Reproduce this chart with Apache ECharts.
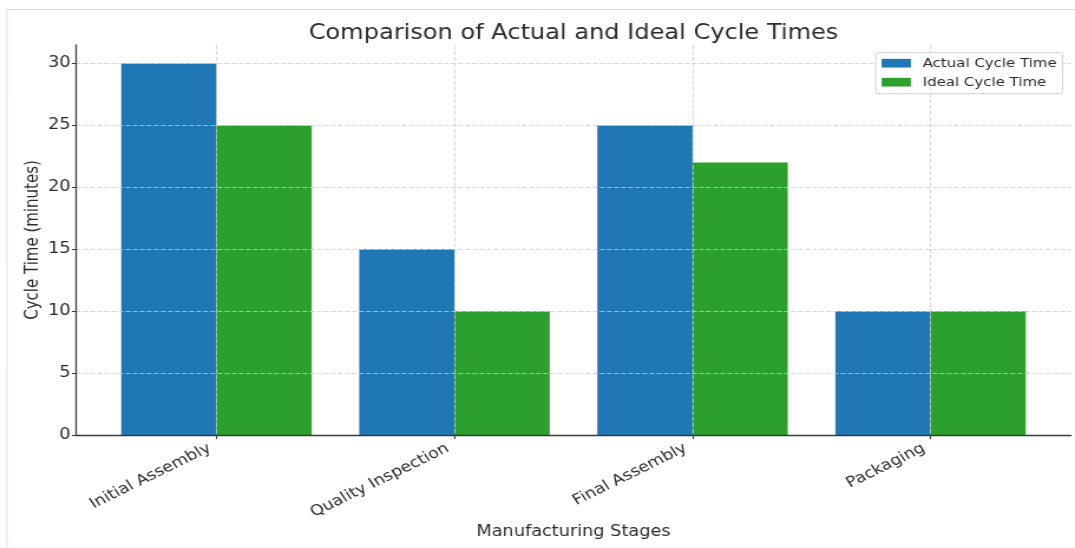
<!DOCTYPE html>
<html>
<head>
<meta charset="utf-8">
<style>
  html, body { margin: 0; padding: 0; background: #fff; overflow: hidden; }
  #wrap { width: 1075px; height: 548px; overflow: hidden; }
  #chart { height: 548px; transform-origin: 0 0; }
</style>
<script src="https://cdn.jsdelivr.net/npm/echarts@6/dist/echarts.min.js"></script>
</head>
<body>
<div id="wrap"><div id="chart"></div></div>
<script>
// Cycle times per manufacturing stage (minutes)
const stages = ['Initial Assembly', 'Quality Inspection', 'Final Assembly', 'Packaging'];
const actualTimes = [30, 15, 25, 10];
const idealTimes = [25, 10, 22, 10];
const yTicks = [0, 5, 10, 15, 20, 25, 30];

const FONT = 'DejaVu Sans';
const TEXT = '#2b2b2b';
const SPINE = '#3a3a3a';
const GRID_LINE = { show: true, lineStyle: { color: '#cdcdcd', type: [4, 2], width: 0.8 } };

// The figure is drawn on a narrower canvas and widened horizontally by SX
const SX = 1.18;
const W = 1075, H = 548;
const CW = W / SX;
const el = document.getElementById('chart');
el.style.width = CW + 'px';
el.style.transform = 'scaleX(' + SX + ')';

// Plot frame in output pixels
const plot = { left: 76, right: 1071, top: 45, bottom: 435 };

// Horizontal data range: bars occupy index ± 0.4, padded by 5% on each side
const span = (stages.length - 1) + 0.8;
const pad = span * 0.05;
const xMin = -0.4 - pad;
const xMax = (stages.length - 1) + 0.4 + pad;
const pxPerUnit = (plot.right - plot.left) / (xMax - xMin);
const toPx = v => (plot.left + (v - xMin) * pxPerUnit) / SX;   // canvas x

// Vertical range: top tick padded by 5%
const yTop = yTicks[yTicks.length - 1];
const yMax = yTop * 1.05;
const toPy = v => plot.bottom - (v / yMax) * (plot.bottom - plot.top);

const chart = echarts.init(el, null, { renderer: 'canvas' });

const L = plot.left / SX, R = CW - plot.right / SX;

chart.setOption({
  animation: false,
  textStyle: { fontFamily: FONT, color: TEXT },
  title: {
    text: 'Comparison of Actual and Ideal Cycle Times',
    left: (L + (CW - R)) / 2 - 5,
    textAlign: 'center',
    top: 19,
    textStyle: { fontFamily: FONT, fontSize: 20.4, fontWeight: 'normal', color: TEXT }
  },
  legend: {
    orient: 'vertical',
    left: 875.7 / SX,
    top: 52.7,
    z: 10,
    icon: 'rect',
    itemWidth: 24.8,
    itemHeight: 8.7,
    itemGap: 4,
    padding: [3, 5, 4, 5],
    borderColor: '#d0d0d0',
    borderWidth: 1,
    borderRadius: 2,
    backgroundColor: 'rgba(255,255,255,0.85)',
    textStyle: { fontFamily: FONT, fontSize: 12.7, color: TEXT, padding: [0, 0, 0, 5], lineHeight: 15 },
    data: ['Actual Cycle Time', 'Ideal Cycle Time']
  },
  graphic: [
    { type: 'line', silent: true, shape: { x1: 7 / SX, y1: 9.5, x2: CW, y2: 9.5 }, style: { stroke: '#dedede', lineWidth: 1 } },
    { type: 'line', silent: true, shape: { x1: 7 / SX, y1: 9.5, x2: 7 / SX, y2: H }, style: { stroke: '#dedede', lineWidth: 0.9 } }
  ],
  grid: [
    // 0: full plot frame (spines, axis titles)
    { left: L, right: R, top: plot.top, bottom: H - plot.bottom },
    // 1: category band for the bars (index -0.5 .. n-0.5)
    { left: toPx(-0.5), right: CW - toPx(stages.length - 0.5), top: plot.top, bottom: H - plot.bottom },
    // 2: category centres (vertical grid lines, x ticks)
    { left: toPx(0), right: CW - toPx(stages.length - 1), top: plot.top, bottom: H - plot.bottom },
    // 3: tick range 0 .. top tick (y ticks, labels, horizontal grid lines)
    { left: L, right: R, top: toPy(yTop), bottom: H - plot.bottom }
  ],
  xAxis: [
    {
      gridIndex: 0, type: 'value', min: xMin, max: xMax, z: 6,
      axisLine: { show: true, onZero: false, lineStyle: { color: SPINE, width: 1.3 } },
      axisTick: { show: false }, axisLabel: { show: false }, splitLine: { show: false },
      name: 'Manufacturing Stages', nameLocation: 'middle', nameGap: 90,
      nameTextStyle: { fontFamily: FONT, fontSize: 15, color: TEXT }
    },
    {
      gridIndex: 1, type: 'category', data: stages,
      axisLine: { show: false }, axisTick: { show: false }, splitLine: { show: false },
      axisLabel: {
        rotate: 30, margin: 9, padding: [0, 6.5, 0, 0],
        fontFamily: FONT, fontSize: 14.7, color: TEXT, interval: 0
      }
    },
    {
      gridIndex: 2, type: 'value', min: 0, max: stages.length - 1, interval: 1, z: 5,
      axisLine: { show: false, onZero: false }, axisLabel: { show: false },
      axisTick: { show: true, length: 4, lineStyle: { color: SPINE, width: 1 } },
      splitLine: GRID_LINE
    },
    {
      gridIndex: 3, type: 'value', min: xMin, max: xMax, show: false
    }
  ],
  yAxis: [
    {
      gridIndex: 0, type: 'value', min: 0, max: yMax, z: 6,
      axisLine: { show: true, onZero: false, lineStyle: { color: SPINE, width: 1.3 } },
      axisTick: { show: false }, axisLabel: { show: false }, splitLine: { show: false },
      name: 'Cycle Time (minutes)', nameLocation: 'middle', nameGap: 29,
      nameTextStyle: { fontFamily: FONT, fontSize: 15, color: TEXT }
    },
    { gridIndex: 1, type: 'value', min: 0, max: yMax, show: false },
    { gridIndex: 2, type: 'value', min: 0, max: yMax, show: false },
    {
      gridIndex: 3, type: 'value', min: yTicks[0], max: yTop, interval: yTicks[1] - yTicks[0], z: 5,
      axisLine: { show: false, onZero: false },
      axisTick: { show: true, length: 3.5, lineStyle: { color: SPINE, width: 1 } },
      axisLabel: { margin: 4.5, fontFamily: FONT, fontSize: 15, color: TEXT },
      splitLine: GRID_LINE
    }
  ],
  series: [
    {
      name: 'Actual Cycle Time', type: 'bar', xAxisIndex: 1, yAxisIndex: 1,
      data: actualTimes, barGap: '0%', barCategoryGap: '20%',
      itemStyle: { color: '#1f77b4' }
    },
    {
      name: 'Ideal Cycle Time', type: 'bar', xAxisIndex: 1, yAxisIndex: 1,
      data: idealTimes, barGap: '0%', barCategoryGap: '20%',
      itemStyle: { color: '#2ca02c' }
    }
  ]
});
</script>
</body>
</html>
